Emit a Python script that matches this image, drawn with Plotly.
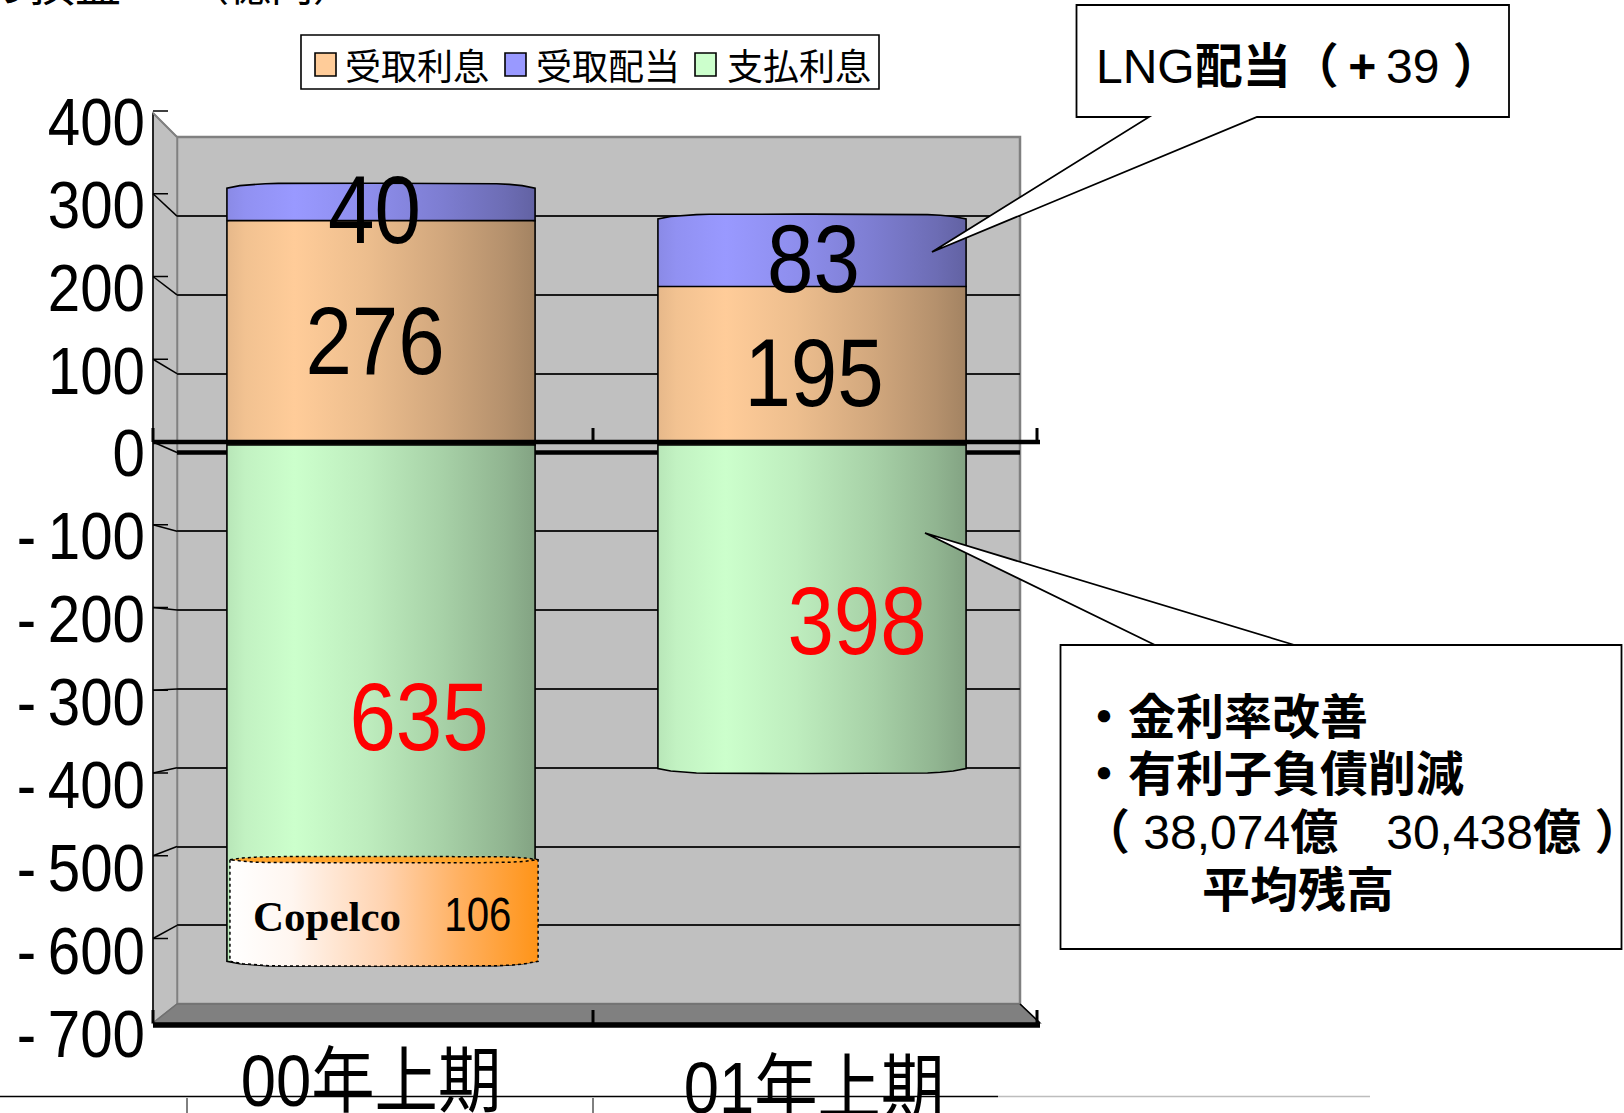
import plotly.graph_objects as go

# ---------- data ----------
categories = ["00年上期", "01年上期"]
interest_received = [276, 195]
dividends_received = [40, 83]
interest_paid = [-635, -398]
copelco_label = "Copelco"
copelco_value = 106
copelco_top = -510            # where the overlay starts on the first bar
label_interest_received = ["276", "195"]
label_dividends = ["40", "83"]
label_interest_paid = ["635", "398"]
ytick_vals = [400, 300, 200, 100, 0, -100, -200, -300, -400, -500, -600, -700]
ytick_text = ["400", "300", "200", "100", "0", "-\u2009100", "-\u2009200", "-\u2009300",
              "-\u2009400", "-\u2009500", "-\u2009600", "-\u2009700"]
series_names = ["受取利息", "受取配当", "支払利息"]

# ---------- style / layout ----------
W, H = 1624, 1113
SANS = "Liberation Sans, Noto Sans CJK JP, sans-serif"
SERIF = "Liberation Serif, serif"
ORANGE, PURPLE, GREEN = "#FFCC99", "#9999FF", "#CCFFCC"
WALL_L, WALL_R, WALL_T, WALL_B = 177, 1020, 137, 1004
FRONT_L, FRONT_R, FRONT_T, FRONT_B = 153, 1040, 113, 1023
DOM_T, DOM_B = 100, 1040
BAR_W = 0.715
CAP = 6


def px(x):
    return x / W


def py(y):
    return 1 - y / H


def front_y(v):
    return 442 - 0.8275 * v


def back_y(v):
    return 452.5 - 0.788 * v


def range_for(zero_px, scale):
    return [(zero_px - DOM_B) / scale, (zero_px - DOM_T) / scale]


def shade(rgb, f):
    return "rgb(%d,%d,%d)" % tuple(round(c * f) for c in rgb)


def cyl_scale(hexcol):
    rgb = tuple(int(hexcol[i:i + 2], 16) for i in (1, 3, 5))
    stops = [(0, .90), (.06, .95), (.22, 1.0), (.45, .93), (.7, .82), (.9, .71), (1, .64)]
    return [[s, shade(rgb, f)] for s, f in stops]


def arc(xc, y, bulge, reverse=False):
    """Gently domed edge of a cylinder segment, in data units."""
    n = 24
    xs, ys = [], []
    for i in range(n + 1):
        t = i / n
        s = 2 * t - 1
        xs.append(xc + BAR_W / 2 * s)
        ys.append(y + bulge * (1 - s ** 8))
    return (xs[::-1], ys[::-1]) if reverse else (xs, ys)


def segment(xc, low, high, colorscale, up=True, line=dict(color="black", width=1.6), name=""):
    if up:
        xa, ya = arc(xc, high, CAP)
        xs = [xc - BAR_W / 2] + xa + [xc + BAR_W / 2, xc - BAR_W / 2]
        ys = [low] + ya + [low, low]
    else:
        xa, ya = arc(xc, low, -CAP)
        xs = [xc - BAR_W / 2] + xa + [xc + BAR_W / 2, xc - BAR_W / 2]
        ys = [high] + ya + [high, high]
    return go.Scatter(x=xs, y=ys, mode="lines", fill="toself", line=line, name=name,
                      fillgradient=dict(type="horizontal", colorscale=colorscale),
                      hoverinfo="skip", showlegend=False, yaxis="y")


fig = go.Figure()
x_num = [0, 1]
fig.add_bar(x=x_num, y=interest_received, name=series_names[0], width=BAR_W,
            marker=dict(color=ORANGE, line=dict(width=0)))
fig.add_bar(x=x_num, y=dividends_received, name=series_names[1], width=BAR_W,
            marker=dict(color=PURPLE, line=dict(width=0)))
fig.add_bar(x=x_num, y=interest_paid, name=series_names[2], width=BAR_W,
            marker=dict(color=GREEN, line=dict(width=0)))

# cylinder shading drawn from the same values
for i in x_num:
    fig.add_trace(segment(i, 0, interest_received[i], cyl_scale(ORANGE)))
    fig.add_trace(segment(i, interest_received[i],
                          interest_received[i] + dividends_received[i], cyl_scale(PURPLE)))
    fig.add_trace(segment(i, interest_paid[i], 0, cyl_scale(GREEN), up=False))

# Copelco overlay on the first bar
fig.add_trace(segment(0.007, interest_paid[0], copelco_top,
                      [[0, "#FFFFFF"], [.2, "#FFF6F0"], [.5, "#FFD3B0"], [.75, "#FFB060"], [1, "#FF9418"]],
                      up=False, line=dict(color="black", width=1.5, dash="dot"), name=copelco_label))
xa, ya = arc(0.0, copelco_top, 4)
xb, yb = arc(0.0, copelco_top, -4, reverse=True)
fig.add_trace(go.Scatter(x=[v + .007 for v in xa + xb], y=ya + yb, mode="lines", fill="toself",
                         fillcolor="#FFA52C", line=dict(color="black", width=1.5, dash="dot"),
                         hoverinfo="skip", showlegend=False))
# carrier trace for the front scale axis
fig.add_trace(go.Scatter(x=[None], y=[None], yaxis="y2", showlegend=False))
# carrier trace for the back wall gridlines
fig.add_trace(go.Scatter(x=[None], y=[None], yaxis="y3", showlegend=False))

shapes = []


def poly(points, fill=None, color="black", width=1.5, layer="above", dash=None):
    path = "M" + " L".join(f"{px(a):.5f},{py(b):.5f}" for a, b in points)
    if fill:
        path += " Z"
    s = dict(type="path", path=path, xref="paper", yref="paper", layer=layer,
             line=dict(color=color, width=width, dash=dash or "solid"))
    if fill:
        s["fillcolor"] = fill
    shapes.append(s)


# walls and floor
poly([(WALL_L, WALL_T), (WALL_R, WALL_T), (WALL_R, WALL_B), (WALL_L, WALL_B)],
     fill="#C0C0C0", color="#808080", width=2.5, layer="below")
poly([(FRONT_L, FRONT_T), (WALL_L, WALL_T), (WALL_L, WALL_B), (FRONT_L, FRONT_B)],
     fill="#C0C0C0", color="#808080", width=1.5, layer="below")
poly([(WALL_L, WALL_B), (WALL_R, WALL_B), (FRONT_R, FRONT_B), (FRONT_L, FRONT_B)],
     fill="#808080", color="#707070", width=1.5, layer="below")
poly([(FRONT_L, FRONT_T), (FRONT_L, FRONT_B)], color="black", width=1.5, layer="below")
poly([(WALL_R, WALL_B), (FRONT_R, FRONT_B)], color="black", width=1.5, layer="below")

# front axis ticks with their diagonal run to the back wall
for v in ytick_vals:
    yf, yb = front_y(v), back_y(v)
    if v != -700:
        poly([(FRONT_L, yf), (FRONT_L + 15, yf)], layer="below")
    if v not in (400, -700):
        poly([(FRONT_L, yf), (WALL_L, yb)], layer="below")
poly([(FRONT_L, FRONT_T), (WALL_L, WALL_T)], color="#808080", width=2, layer="below")

# back wall zero line, heavy
poly([(WALL_L, back_y(0)), (WALL_R, back_y(0))], width=4.5, layer="below")
# front zero line and base line, heavy, over the bars
poly([(FRONT_L, front_y(0)), (FRONT_R, front_y(0))], width=4.5)
poly([(FRONT_L, FRONT_B + 2), (FRONT_R, FRONT_B + 2)], width=5.5)
for xt in (FRONT_L, 593, 1037):
    poly([(xt, front_y(0) - 14), (xt, front_y(0))], width=3)
    poly([(xt, FRONT_B - 13), (xt, FRONT_B)], width=3)

# rule at the foot of the page
poly([(0, 1096.5), (998, 1096.5)], width=1.5)
poly([(998, 1096.5), (1370, 1096.5)], color="#BDBDBD", width=1.5)
poly([(187, 1098), (187, 1113)], width=1)
poly([(593, 1098), (593, 1113)], width=1)

# callouts
poly([(1076.5, 5), (1509, 5), (1509, 117), (1257, 117), (932, 252), (1149, 117), (1076.5, 117)],
     fill="white", width=1.8)
poly([(1060.5, 645), (1621.5, 645), (1621.5, 949), (1060.5, 949), (1060.5, 645), (1155, 645),
      (925, 533), (1294.5, 645)], fill="white", width=1.8)

# legend box and its swatches
poly([(301, 35), (879, 35), (879, 89), (301, 89)], fill="white", width=1.6)
for x0, col in zip((315, 505, 695), (ORANGE, PURPLE, GREEN)):
    poly([(x0, 53), (x0 + 21, 53), (x0 + 21, 76), (x0, 76)], fill=col, width=1.6)

annotations = []


def note(text, x, y, size, font=SANS, color="black", anchor="center"):
    annotations.append(dict(text=text, x=px(x), y=py(y), xref="paper", yref="paper",
                            xanchor=anchor, yanchor="middle", showarrow=False,
                            font=dict(family=font, size=size, color=color)))


note(label_dividends[0], 374, 210, 96)
note(label_interest_received[0], 375, 340, 96)
note(label_dividends[1], 813, 258, 96)
note(label_interest_received[1], 814, 373, 96)
note(label_interest_paid[1], 857, 620, 96, color="#FF0000")
note(label_interest_paid[0], 419, 716, 96, color="#FF0000")
note(f"<b>{copelco_label}</b>", 327, 916, 43, font=SERIF)
note(str(copelco_value), 478, 914, 49)
note(categories[0], 371, 1081, 72)
note(categories[1], 814, 1088, 72)

note("の損益", -19, -15, 46, anchor="left")
note("（億円）", 185, -14, 42, anchor="left")

note("LNG<b>配当（\u2009+</b>\u200939\u00a0<b>）</b>", 1094, 66, 48, anchor="left")
note("<b>・金利率改善</b>", 1078, 717, 48, anchor="left")
note("<b>・有利子負債削減</b>", 1078, 774, 48, anchor="left")
note("<b>（</b>\u00a038,074<b>億</b>　30,438<b>億</b>\u00a0<b>）</b>", 1080, 833, 48, anchor="left")
note("<b>平均残高</b>", 1200, 890, 48, anchor="left")

zero_bar = 445
scale_bar = 0.813
fig.update_layout(
    width=W, height=H, margin=dict(l=0, r=0, t=0, b=0, autoexpand=False),
    paper_bgcolor="white", plot_bgcolor="rgba(0,0,0,0)",
    barmode="relative", bargap=0, shapes=shapes, annotations=annotations,
    font=dict(family=SANS, color="black"),
    hovermode=False,
    xaxis=dict(domain=[px(WALL_L), px(WALL_R)],
               range=[-(381 - WALL_L) / 431, (WALL_R - 381) / 431],
               tickvals=x_num, showticklabels=False, ticks="", showgrid=False, zeroline=False,
               showline=False),
    yaxis=dict(domain=[py(DOM_B), py(DOM_T)], range=range_for(zero_bar, scale_bar),
               visible=False, showgrid=False, zeroline=False),
    yaxis2=dict(overlaying="y", anchor="free", position=px(145), side="left",
                range=range_for(453, 0.829), tickmode="array", tickvals=ytick_vals,
                ticktext=ytick_text, tickfont=dict(family=SANS, size=67, color="black"),
                showgrid=False, zeroline=False, showline=False, ticks=""),
    yaxis3=dict(overlaying="y", anchor="free", position=px(WALL_L), side="left",
                range=range_for(back_y(0), 0.788), tickmode="array",
                tickvals=[v for v in ytick_vals if v not in (400, 0, -700)],
                showticklabels=False, ticks="", showgrid=True, gridcolor="#1a1a1a", gridwidth=1.6,
                zeroline=False, showline=False, layer="below traces"),
    legend=dict(orientation="h", x=px(305), y=py(36), xanchor="left", yanchor="top",
                bgcolor="rgba(0,0,0,0)", borderwidth=0,
                font=dict(family=SANS, size=36, color="black"),
                itemwidth=30, entrywidth=146, traceorder="normal"),
)

# the reference's chart text is condensed horizontally; keep it real text, just set its width
post = """
document.body.style.margin='0';document.body.style.overflow='hidden';
function condense(){
  var S={'96px':.87,'49px':.82,'72px':.88,'67px':.87};
  document.querySelectorAll('.annotation-text, .y2tick text, .annotation text').forEach(function(t){
    var k=S[t.style.fontSize]; if(!k||t.getAttribute('textLength'))return;
    var n=t.getComputedTextLength();
    t.setAttribute('textLength',n*k); t.setAttribute('lengthAdjust','spacingAndGlyphs');
  });
}
condense(); setTimeout(condense,50);
"""
fig.write_html("out.html", post_script=post, config={"displayModeBar": False})
